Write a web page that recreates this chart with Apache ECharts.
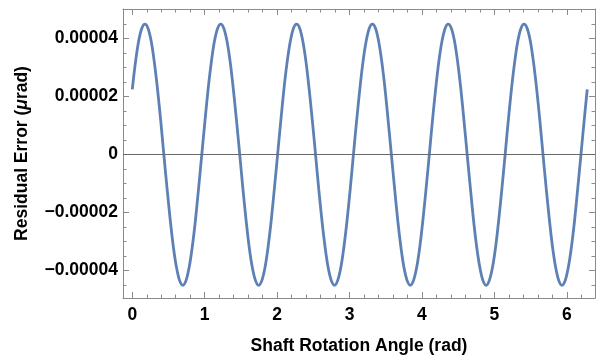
<!DOCTYPE html>
<html>
<head>
<meta charset="utf-8">
<script src="https://cdn.jsdelivr.net/npm/echarts@6/dist/echarts.min.js"></script>
<style>html,body{margin:0;padding:0;background:#fff}#c{width:597px;height:360px}</style>
</head>
<body>
<div id="c"></div>
<script>
// Shaft rotation angle (rad)
const angle = [0,0.044,0.087,0.131,0.175,0.218,0.262,0.305,0.349,0.393,0.436,0.480,
0.524,0.567,0.611,0.654,0.698,0.742,0.785,0.829,0.873,0.916,0.960,1.004,
1.047,1.091,1.134,1.178,1.222,1.265,1.309,1.353,1.396,1.440,1.484,1.527,
1.571,1.614,1.658,1.702,1.745,1.789,1.833,1.876,1.920,1.963,2.007,2.051,
2.094,2.138,2.182,2.225,2.269,2.313,2.356,2.400,2.443,2.487,2.531,2.574,
2.618,2.662,2.705,2.749,2.793,2.836,2.880,2.923,2.967,3.011,3.054,3.098,
3.142,3.185,3.229,3.272,3.316,3.360,3.403,3.447,3.491,3.534,3.578,3.622,
3.665,3.709,3.752,3.796,3.840,3.883,3.927,3.971,4.014,4.058,4.102,4.145,
4.189,4.232,4.276,4.320,4.363,4.407,4.451,4.494,4.538,4.581,4.625,4.669,
4.712,4.756,4.800,4.843,4.887,4.930,4.974,5.018,5.061,5.105,5.149,5.192,
5.236,5.280,5.323,5.367,5.411,5.454,5.498,5.541,5.585,5.629,5.672,5.716,
5.760,5.803,5.847,5.890,5.934,5.978,6.021,6.065,6.109,6.152,6.196,6.240,
6.283];
// Residual error, in units of 1e-5 µrad
const residual = [
2.25,3.18,3.90,4.35,4.50,4.35,3.90,3.18,2.25,1.16,0,-1.16,-2.25,-3.18,-3.90,-4.35,-4.51,-4.35,-3.90,-3.18,-2.25,-1.16,0,1.16,
2.25,3.18,3.90,4.35,4.50,4.35,3.90,3.18,2.25,1.16,0,-1.16,-2.25,-3.18,-3.90,-4.35,-4.51,-4.35,-3.90,-3.18,-2.25,-1.16,0,1.16,
2.25,3.18,3.90,4.35,4.50,4.35,3.90,3.18,2.25,1.16,0,-1.16,-2.25,-3.18,-3.90,-4.35,-4.51,-4.35,-3.90,-3.18,-2.25,-1.16,0,1.16,
2.25,3.18,3.90,4.35,4.50,4.35,3.90,3.18,2.25,1.16,0,-1.16,-2.25,-3.18,-3.90,-4.35,-4.51,-4.35,-3.90,-3.18,-2.25,-1.16,0,1.16,
2.25,3.18,3.90,4.35,4.50,4.35,3.90,3.18,2.25,1.16,0,-1.16,-2.25,-3.18,-3.90,-4.35,-4.51,-4.35,-3.90,-3.18,-2.25,-1.16,0,1.16,
2.25,3.18,3.90,4.35,4.50,4.35,3.90,3.18,2.25,1.16,0,-1.16,-2.25,-3.18,-3.90,-4.35,-4.51,-4.35,-3.90,-3.18,-2.25,-1.16,0,1.16,
2.25];
const xMajor = [0,1,2,3,4,5,6];
const xMinor = [0.2,0.4,0.6,0.8,1.2,1.4,1.6,1.8,2.2,2.4,2.6,2.8,3.2,3.4,3.6,3.8,4.2,4.4,4.6,4.8,5.2,5.4,5.6,5.8,6.2];
const yMajor = [-0.00004,-0.00002,0,0.00002,0.00004];
const yMinor = [-0.000045,-0.000035,-0.00003,-0.000025,-0.000015,-0.00001,-0.000005,0.000005,0.00001,0.000015,0.000025,0.00003,0.000035,0.000045];
const yLabels = {"-0.00004":"\u22120.00004","-0.00002":"\u22120.00002","0":"0","0.00002":"0.00002","0.00004":"0.00004"};

const X_MIN = -0.128, X_MAX = 6.39, Y_MIN = -0.0000495, Y_MAX = 0.0000502;
const FONT = '"Liberation Sans", Arial, Helvetica, sans-serif';
const FS = 17.5;
const frameColor = '#8a8a8a';

function xAx(pos, ticks, len, showLine, labels) {
  return {
    type:'value', position:pos, min:X_MIN, max:X_MAX, gridIndex:0,
    axisLine:{show:showLine, onZero:false, lineStyle:{color:frameColor, width:1}},
    axisTick:{show:true, inside:true, length:len, customValues:ticks, lineStyle:{color:frameColor, width:1}},
    axisLabel:labels ? {show:true, customValues:ticks, margin:8, color:'#000', fontFamily:FONT, fontWeight:'bold', fontSize:FS, formatter:v=>String(Math.round(v))} : {show:false},
    splitLine:{show:false}
  };
}
function yAx(pos, ticks, len, showLine, labels) {
  return {
    type:'value', position:pos, min:Y_MIN, max:Y_MAX, gridIndex:0,
    axisLine:{show:showLine, onZero:false, lineStyle:{color:frameColor, width:1}},
    axisTick:{show:true, inside:true, length:len, customValues:ticks, lineStyle:{color:frameColor, width:1}},
    axisLabel:labels ? {show:true, customValues:ticks, margin:5, color:'#000', fontFamily:FONT, fontWeight:'bold', fontSize:FS,
      formatter:v=>{const k=String(Math.round(v*1e5)/1e5); return yLabels[k]!==undefined?yLabels[k]:k;}} : {show:false},
    splitLine:{show:false}
  };
}

const xAxes = [xAx('bottom', xMajor, 6, true, true), xAx('bottom', xMinor, 3.5, false, false), xAx('top', xMajor, 6, true, false), xAx('top', xMinor, 3.5, false, false)];
xAxes[0].name = 'Shaft Rotation Angle (rad)';
xAxes[0].nameLocation = 'middle';
xAxes[0].nameGap = 39;
xAxes[0].nameTextStyle = {color:'#000', fontFamily:FONT, fontWeight:'bold', fontSize:FS};

const yAxes = [yAx('left', yMajor, 6, true, true), yAx('left', yMinor, 3.5, false, false), yAx('right', yMajor, 6, true, false), yAx('right', yMinor, 3.5, false, false)];
yAxes[0].name = 'Residual Error ({i|\u03bc}rad)';
yAxes[0].nameLocation = 'middle';
yAxes[0].nameGap = 92;
yAxes[0].nameRotate = 90;
yAxes[0].nameTextStyle = {color:'#000', fontFamily:FONT, fontWeight:'bold', fontSize:FS,
  rich:{i:{fontStyle:'italic', fontWeight:'bold', fontSize:FS, fontFamily:FONT, color:'#000'}}};

const chart = echarts.init(document.getElementById('c'), null, {renderer:'canvas'});
chart.setOption({
  animation:false,
  backgroundColor:'#fff',
  grid:{left:123, right:2, top:9, bottom:60, containLabel:false},
  xAxis:xAxes,
  yAxis:yAxes,
  series:[{
    type:'line', xAxisIndex:0, yAxisIndex:0,
    data:angle.map((a,i)=>[a, residual[i]*1e-5]),
    showSymbol:false, smooth:0.3, clip:true,
    lineStyle:{color:'#5e81b5', width:2.8},
    markLine:{silent:true, symbol:['none','none'], label:{show:false},
      lineStyle:{color:'#6a6a6a', width:1, type:'solid'},
      data:[{yAxis:0}]}
  }]
});
</script>
</body>
</html>
